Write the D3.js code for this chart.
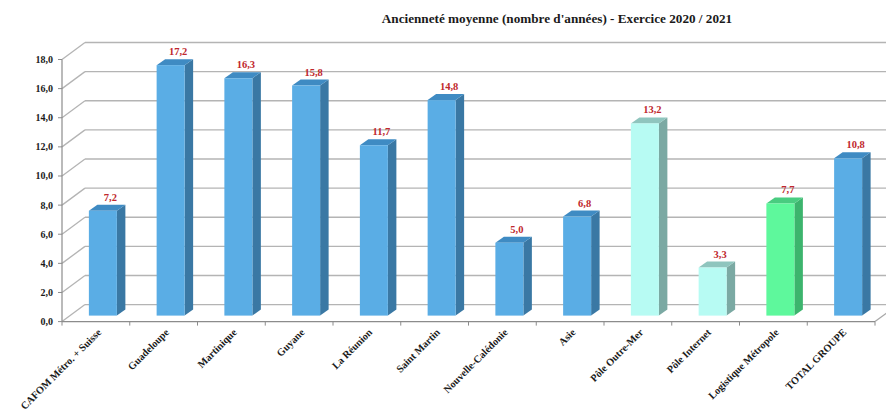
<!DOCTYPE html>
<html><head><meta charset="utf-8">
<script src="https://cdn.jsdelivr.net/npm/d3@7"></script>
<style>html,body{margin:0;padding:0;background:#fff;}svg{display:block;}</style>
</head><body>
<svg id="chart" width="886" height="414"></svg>
<script>
const title = "Ancienneté moyenne (nombre d'années) - Exercice 2020 / 2021";
const categories = ["CAFOM Métro. + Suisse","Guadeloupe","Martinique","Guyane","La Réunion","Saint Martin","Nouvelle-Calédonie","Asie","Pôle Outre-Mer","Pôle Internet","Logistique Métropole","TOTAL GROUPE"];
const values = [7.2,17.2,16.3,15.8,11.7,14.8,5.0,6.8,13.2,3.3,7.7,10.8];
const groups = ["blue","blue","blue","blue","blue","blue","blue","blue","cyan","cyan","green","blue"];
const yTicks = [0,2,4,6,8,10,12,14,16,18];

const palette = {
  blue:  {front:"#5AADE5", side:"#3A78A4", top:"#3F8BC3"},
  cyan:  {front:"#B7FBF3", side:"#7BA9A3", top:"#8FC5BE"},
  green: {front:"#5EF89C", side:"#3CB46D", top:"#49CC80"}
};

const svg = d3.select("#chart");
const fontFam = "'Liberation Serif','DejaVu Serif',serif";

const x0 = 62, x1 = 875;
const depthX = 23, depthY = -17;
const x = d3.scaleBand().domain(categories).range([x0, x1]).paddingInner(0).paddingOuter(0);
const y = d3.scaleLinear().domain([0, 18]).range([321.6, 59.5]);

const grid = svg.append("g");
yTicks.forEach(t => {
  grid.append("line").attr("x1", x0 + depthX).attr("x2", 900)
    .attr("y1", y(t) + depthY).attr("y2", y(t) + depthY)
    .attr("stroke", "#B4B4B4").attr("stroke-width", 1.3);
  grid.append("line").attr("x1", x0).attr("y1", y(t))
    .attr("x2", x0 + depthX).attr("y2", y(t) + depthY)
    .attr("stroke", "#B4B4B4").attr("stroke-width", 1.3);
});
grid.append("line").attr("x1", x1).attr("y1", y(0)).attr("x2", x1 + depthX).attr("y2", y(0) + depthY)
  .attr("stroke", "#A8A8A8").attr("stroke-width", 1.2);

const barW = 28, offX = 7, offY = -6, sideX = 8.5, sideY = -6;
const bars = svg.append("g");
categories.forEach((c, i) => {
  const v = values[i];
  const col = palette[groups[i]];
  const cx = x(c) + x.bandwidth() / 2 + offX;
  const xl = cx - barW / 2, xr = cx + barW / 2;
  const yb = y(0) + offY, yt = y(v) + offY;
  bars.append("path").attr("d", `M${xr},${yb} L${xr+sideX},${yb+sideY} L${xr+sideX},${yt+sideY} L${xr},${yt} Z`).attr("fill", col.side);
  bars.append("path").attr("d", `M${xl},${yt} L${xl+sideX},${yt+sideY} L${xr+sideX},${yt+sideY} L${xr},${yt} Z`).attr("fill", col.top);
  bars.append("rect").attr("x", xl).attr("y", yt).attr("width", barW).attr("height", yb - yt).attr("fill", col.front);
  svg.append("text").attr("x", x(c) + x.bandwidth() / 2 + 14.5).attr("y", y(v) - 16)
    .attr("text-anchor", "middle").attr("font-family", fontFam).attr("font-weight", "bold")
    .attr("font-size", "10.5px").attr("fill", "#C0282D")
    .text(d3.format(".1f")(v).replace(".", ","));
});

const axG = svg.append("g");
axG.append("line").attr("x1", x0).attr("x2", x0).attr("y1", y(0)).attr("y2", y(18)).attr("stroke", "#8C8C8C").attr("stroke-width", 1.2);
axG.append("line").attr("x1", x0).attr("x2", x1).attr("y1", y(0)).attr("y2", y(0)).attr("stroke", "#8C8C8C").attr("stroke-width", 1.2);
yTicks.forEach(t => {
  axG.append("line").attr("x1", x0 - 4).attr("x2", x0).attr("y1", y(t)).attr("y2", y(t)).attr("stroke", "#8C8C8C");
  axG.append("text").attr("x", 53).attr("y", y(t)).attr("dy", "0.35em").attr("text-anchor", "end")
    .attr("font-family", fontFam).attr("font-weight", "bold").attr("font-size", "10px").attr("fill", "#1a1a1a")
    .text(d3.format(".1f")(t).replace(".", ","));
});
categories.forEach(c => {
  axG.append("line").attr("x1", x(c)).attr("x2", x(c)).attr("y1", y(0)).attr("y2", y(0) + 4).attr("stroke", "#8C8C8C");
});
axG.append("line").attr("x1", x1).attr("x2", x1).attr("y1", y(0)).attr("y2", y(0) + 4).attr("stroke", "#8C8C8C");
categories.forEach(c => {
  const ax = x(c) + x.bandwidth() / 2 + 6, ay = 333;
  axG.append("text").attr("transform", `translate(${ax},${ay}) rotate(-45)`)
    .attr("text-anchor", "end").attr("font-family", fontFam).attr("font-weight", "bold")
    .attr("font-size", "10.3px").attr("fill", "#1a1a1a").text(c);
});

svg.append("text").attr("x", 557).attr("y", 23).attr("text-anchor", "middle")
  .attr("font-family", fontFam).attr("font-weight", "bold").attr("font-size", "13.2px").attr("fill", "#1a1a1a")
  .text(title);
</script>
</body></html>
